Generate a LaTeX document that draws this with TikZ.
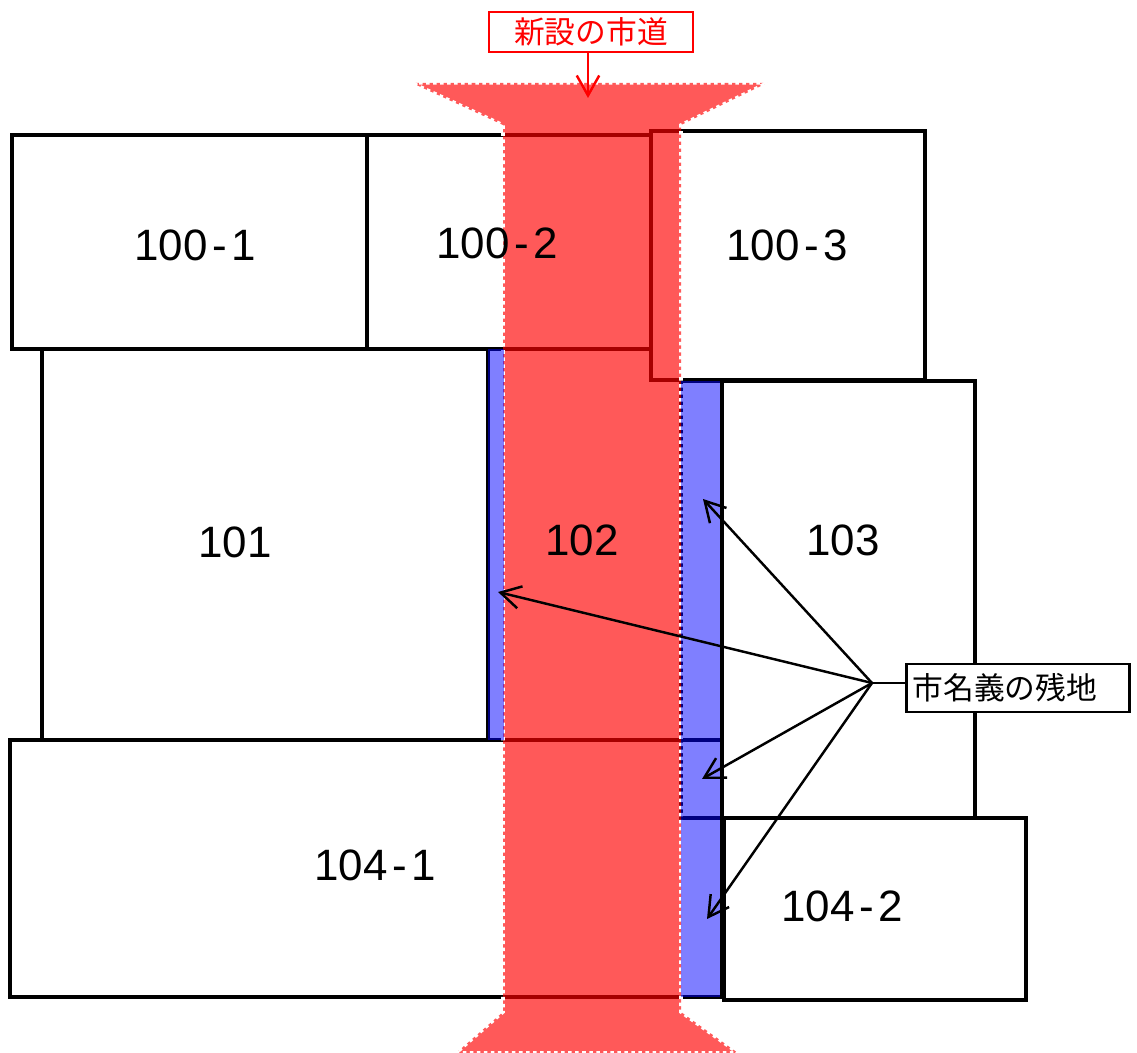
\documentclass[tikz,border=0pt]{standalone}
\usepackage{fontspec}
\setmainfont{Liberation Sans}
\newfontfamily\jpfont{Noto Sans CJK JP}
\usetikzlibrary{arrows.meta}
\newcommand\parcelno[2]{#1\kern2.5pt-\kern2.5pt#2}
\tikzstyle{lot}=[draw=black,line width=1.8pt]
\tikzstyle{road}=[fill=red,fill opacity=0.65,draw=white,line width=2pt,dash pattern=on 2pt off 2pt]
\tikzstyle{remnant}=[fill=blue,fill opacity=0.5]
\tikzstyle{lotno}=[font=\fontsize{25}{25}\selectfont]
\tikzstyle{callout}=[draw,fill=white,line width=1.5pt,inner ysep=0pt,font=\jpfont\fontsize{17.5}{18}\selectfont]
\tikzstyle{pointer}=[draw,line width=1.4pt,-{Straight Barb[length=0.4cm,width=0.45cm]}]

\begin{document}
\begin{tikzpicture}[x=0.02cm,y=-0.02cm]
    \useasboundingbox (0,0) rectangle (1137,1053);
    % lots
    \draw[lot] (12,135) rectangle (367,349);
    \draw[lot] (367,135) rectangle (651,349);
    \draw[lot] (651,131) rectangle (925,380);
    \draw[lot] (42,349) rectangle (488,740);
    \draw[lot] (681,381) rectangle (975,818);
    \draw[lot] (10,740) rectangle (722,997);
    \draw[lot] (724,818) rectangle (1026,1000);
    % new road
    \path[road] (412,83) -- (767,83) -- (681,125) -- (681,1012) -- (738,1053)
        -- (456,1053) -- (503,1012) -- (503,125) -- cycle;
    % remnants
    \path[remnant] (488,349) rectangle (504,740);
    \path[remnant] (681,381) rectangle (722,997);
    \draw[lot] (722,381) -- (722,997);
    % lot numbers
    \node[lotno] (n1001) at (195,245) {\parcelno{100}{1}};
    \node[lotno] (n1002) at (497,243) {\parcelno{100}{2}};
    \node[lotno] (n1003) at (787,245) {\parcelno{100}{3}};
    \node[lotno] (n101) at (235,542) {101};
    \node[lotno] (n102) at (582,540) {102};
    \node[lotno] (n103) at (843,540) {103};
    \node[lotno] (n1041) at (375,865) {\parcelno{104}{1}};
    \node[lotno] (n1042) at (842,906) {\parcelno{104}{2}};
    % labels
    \node[callout,draw=red,text=red,inner xsep=0.5cm,minimum height=0.8cm] (roadlbl) at (591,32) {新設の市道};
    \coordinate (roadtip) at (588,98);
    \path[pointer,red] (roadtip |- roadlbl.south) -- (roadtip);
    \node[callout,inner xsep=0.12cm,text width=4.22cm,align=left,minimum height=0.96cm] (remlbl) at (1018,688) {市名義の残地};
    \coordinate (hub) at (872,683);
    \coordinate (t1) at (703,499);
    \coordinate (t2) at (498,592);
    \coordinate (t3) at (702,779);
    \coordinate (t4) at (707,919);
    \path[draw,line width=1.4pt] (hub) -- (hub -| remlbl.west);
    \foreach \t in {t1,t2,t3,t4}
        \path[pointer] (hub) -- (\t);
\end{tikzpicture}
\end{document}
